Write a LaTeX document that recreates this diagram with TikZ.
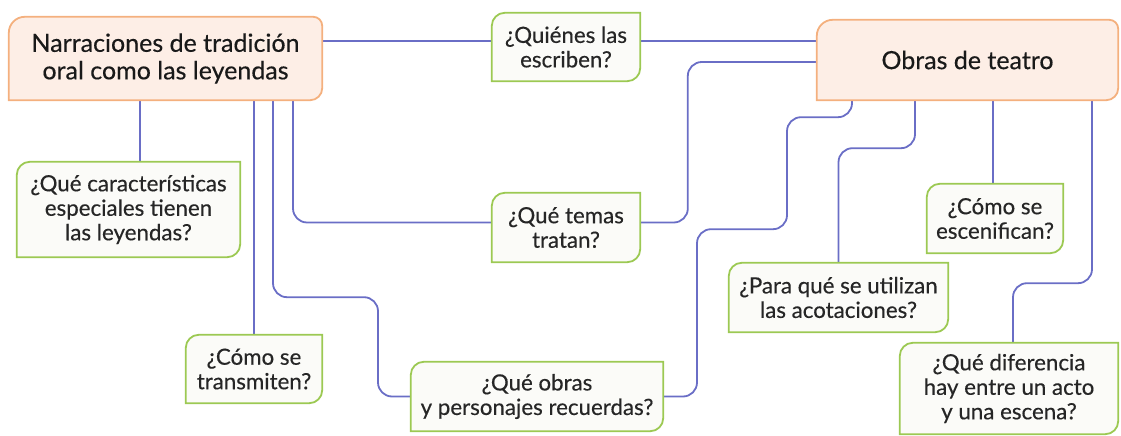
\documentclass[tikz,border=0pt]{standalone}
\usepackage{fontspec}
\setmainfont{Lato}
\newfontfamily\boxfont{Lato}[FakeBold=0.35]
\usepackage{tikz}
\usetikzlibrary{calc,positioning}
\definecolor{linkblue}{HTML}{6A6EC6}
\definecolor{leafgreen}{HTML}{9CC953}
\definecolor{topicedge}{HTML}{F4B07E}
\definecolor{topicfill}{HTML}{FDEEE6}
\definecolor{leaffill}{HTML}{FBFBF8}
\pgfdeclarelayer{links}
\pgfdeclarelayer{boxes}
\pgfsetlayers{links,boxes,main}
\tikzset{
    mytopic/.style={inner sep=0pt,align=center,text=black!90,font=\boxfont\fontsize{25}{27.5}\selectfont},
    myquestion/.style={inner sep=0pt,align=center,text=black!85,font=\boxfont\fontsize{22.3}{24.5}\selectfont},
    mytopicline/.style={draw=topicedge,fill=topicfill,line width=1.8pt},
    myleafline/.style={draw=leafgreen,fill=leaffill,line width=1.8pt},
    mylink/.style={draw=linkblue,line width=1.8pt,rounded corners=14pt}
}

\begin{document}
\begin{tikzpicture}[x=1pt,y=1pt]
  \useasboundingbox (0,0) rectangle (1121,436);
  % main topics
  \node[mytopic,minimum width=313pt,minimum height=83pt] (nar) at (165.5,377.5)
    {Narraciones de tradición\\oral como las leyendas};
  \node[mytopic,minimum width=301pt,minimum height=80pt] (obr) at (967.5,376)
    {Obras de teatro};
  % questions
  \node[myquestion,minimum width=148pt,minimum height=68pt] (q1) at (566,389)
    {¿Quiénes las\\escriben?};
  \node[myquestion,minimum width=148pt,minimum height=69pt] (q2) at (566,208.5)
    {¿Qué temas\\tratan?};
  \node[myquestion,minimum width=223pt,minimum height=95pt] (q3) at (128.5,226.5)
    {¿Qué características\\especiales tienen\\las leyendas?};
  \node[myquestion,minimum width=136pt,minimum height=68pt] (q4) at (254,67)
    {¿Cómo se\\transmiten?};
  \node[myquestion,minimum width=252pt,minimum height=69pt] (q5) at (537,39.5)
    {¿Qué obras\\y personajes recuerdas?};
  \node[myquestion,minimum width=219pt,minimum height=69pt] (q6) at (838.5,138.5)
    {¿Para qué se utilizan\\las acotaciones?};
  \node[myquestion,minimum width=136pt,minimum height=69pt] (q7) at (995,217.5)
    {¿Cómo se\\escenifican?};
  \node[myquestion,minimum width=218pt,minimum height=91pt] (q8) at (1009,47.5)
    {¿Qué diferencia\\hay entre un acto\\y una escena?};

  % box outlines
  \begin{pgfonlayer}{boxes}
    \foreach \n in {nar,obr}{
      \filldraw[mytopicline] (\n.south west) -- ([yshift=-16pt]\n.north west)
        arc[start angle=180,end angle=90,radius=16pt] -- ([xshift=-9pt]\n.north east)
        arc[start angle=90,end angle=0,radius=9pt] -- ([yshift=12pt]\n.south east)
        arc[start angle=0,end angle=-90,radius=12pt] -- cycle;
    }
    \foreach \n in {q1,q2,q3,q4,q5,q6,q7,q8}{
      \filldraw[myleafline] (\n.south west) -- ([yshift=-13pt]\n.north west)
        arc[start angle=180,end angle=90,radius=13pt] -- (\n.north east)
        -- ([yshift=13pt]\n.south east)
        arc[start angle=0,end angle=-90,radius=13pt] -- cycle;
    }
  \end{pgfonlayer}

  % connectors
  \begin{pgfonlayer}{links}
    \draw[mylink] ([yshift=6pt]q1.west) -- ([yshift=6pt]q1.west -| nar.east);
    \draw[mylink] ([yshift=6pt]q1.east) -- ([yshift=6pt]q1.east -| obr.west);
    \draw[mylink] ([yshift=-2pt]obr.west) -- ++(-129,0) |- ([yshift=5pt]q2.east);
    \draw[mylink] ([xshift=127.5pt]nar.south) |- ([yshift=5pt]q2.west);
    \draw[mylink] ([xshift=-25.5pt]nar.south) -- ([xshift=-25.5pt]nar.south |- q3.north);
    \draw[mylink] (q4.north) -- (q4.north |- nar.south);
    \draw[mylink] ([xshift=107.5pt]nar.south) -- ++(0,-197) -- ++(105,0) |- (q5.west);
    \draw[mylink] ([xshift=-115.5pt]obr.south) -- ++(0,-17) -- ++(-65,0)
      -- ++(0,-112) -- ++(-90,0) |- (q5.east);
    \draw[mylink] ([xshift=-52.5pt]obr.south) -- ++(0,-48) -| (q6.north);
    \draw[mylink] ([xshift=-2pt]q7.north) -- ([xshift=-2pt]q7.north |- obr.south);
    \draw[mylink] ([xshift=124.5pt]obr.south) -- ++(0,-183) -| ([xshift=4pt]q8.north);
  \end{pgfonlayer}
\end{tikzpicture}
\end{document}
